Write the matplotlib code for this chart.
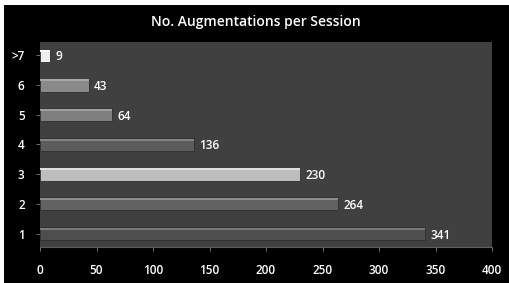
import matplotlib
matplotlib.use("Agg")
import matplotlib.pyplot as plt
from matplotlib.patches import Rectangle

categories = ["1", "2", "3", "4", "5", "6", ">7"]
values = [341, 264, 230, 136, 64, 43, 9]
bar_colors = ["#4e4e4e", "#626262", "#bdbdbd", "#5c5c5c", "#7e7e7e", "#8a8a8a", "#eeeeee"]
hi_colors = ["#7a7a7a", "#8e8e8e", "#e0e0e0", "#858585", "#a0a0a0", "#a8a8a8", "#ffffff"]
xticks = [0, 50, 100, 150, 200, 250, 300, 350, 400]

plt.rcParams['font.family'] = ['Open Sans', 'DejaVu Sans']
plt.rcParams['font.weight'] = 'semibold'

W, H = 509, 283
fig = plt.figure(figsize=(W / 100, H / 100), dpi=100, facecolor="white")
fig.patches.append(Rectangle((4 / W, 0), 1 - 4 / W, 1 - 5 / H, transform=fig.transFigure,
                             facecolor="black", edgecolor="none", zorder=-10))

ax = fig.add_axes([40 / W, 1 - 247 / H, (492 - 40) / W, (247 - 42) / H])
ax.set_facecolor("#404040")
y = list(range(len(categories)))
bh = 0.44
ax.barh(y, values, height=bh, color=bar_colors, edgecolor="#2e2e2e", linewidth=0.6, zorder=2)
ax.barh([v + bh / 2 - 0.06 for v in y], values, height=0.07, color=hi_colors,
        edgecolor="none", zorder=3)

for yi, v in zip(y, values):
    ax.text(v + 5, yi - 0.05, str(v), color="white", fontsize=8.5, va="center", ha="left",
            fontweight="semibold")

ax.set_xlim(0, 400)
ax.set_ylim(-0.45, len(categories) - 0.55)
ax.set_xticks(xticks)
ax.set_yticks(y)
ax.set_yticklabels(categories)
ax.tick_params(axis="both", colors="#808080", labelcolor="white", labelsize=8.5, length=3, width=0.6)
ax.tick_params(axis="y", pad=8)
ax.tick_params(axis="x", pad=9)
for s in ax.spines.values():
    s.set_visible(False)
ax.spines["bottom"].set_visible(True)
ax.spines["bottom"].set_color("#606060")

fig.text(256 / W, 1 - 22 / H, "No. Augmentations per Session", color="white",
         fontsize=10, ha="center", va="center", fontweight="semibold")

fig.savefig("out.png", dpi=100, facecolor=fig.get_facecolor())
